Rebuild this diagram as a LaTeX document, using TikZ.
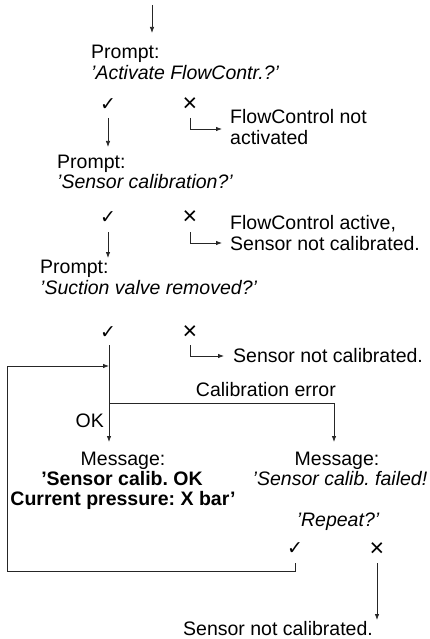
\documentclass[tikz,border=0pt]{standalone}
\usepackage{fontspec}
\setmainfont{Liberation Sans}
\newfontfamily\symfont{DejaVu Sans}
\usetikzlibrary{arrows.meta}
\frenchspacing
\begin{document}
\begin{tikzpicture}[x=1pt,y=-1pt,
  txt/.style={inner sep=0pt,anchor=base west,font=\fontsize{19.5}{20}\selectfont},
  ctxt/.style={txt,anchor=base},
  rtxt/.style={txt,anchor=base east},
  yes/.style={inner sep=0pt,font=\symfont\fontsize{19}{19}\selectfont},
  no/.style={inner sep=0pt,font=\fontsize{25}{25}\selectfont},
  conn/.style={line width=0.75pt,draw=black!85},
  arr/.style={conn,-{Latex[length=6pt,width=4.5pt]}}]
\useasboundingbox (0,0) rectangle (430,639);

% block 1
\node[txt] (p1a) at (91,59) {Prompt:};
\node[txt] (p1b) at (91,80) {\itshape ’Activate FlowContr.?’};
\node[yes] (y1) at (108,105) {✓};
\node[no] (n1) at (190,105) {×};
\node[txt] (r1a) at (230,124) {FlowControl not};
\node[txt] (r1b) at (230,145) {activated};

% block 2
\node[txt] (p2a) at (57,168) {Prompt:};
\node[txt] (p2b) at (57,189) {\itshape ’Sensor calibration?’};
\node[yes] (y2) at (108,218) {✓};
\node[no] (n2) at (190,218) {×};
\node[txt] (r2a) at (230,229) {FlowControl active,};
\node[txt] (r2b) at (230,250) {Sensor not calibrated.};

% block 3
\node[txt] (p3a) at (40,273) {Prompt:};
\node[txt] (p3b) at (40,294) {\itshape ’Suction valve removed?’};
\node[yes] (y3) at (108,333) {✓};
\node[no] (n3) at (190,333) {×};
\node[txt] (r3) at (233,362) {Sensor not calibrated.};

% labels
\node[rtxt] (cerr) at (336,396) {Calibration error};
\node[rtxt] (ok) at (104,427) {OK};

% messages
\node[ctxt] (m1a) at (123,465) {Message:};
\node[ctxt] (m1b) at (122,485) {\bfseries ’Sensor calib. OK};
\node[ctxt] (m1c) at (123,505) {\bfseries Current pressure: X bar’};
\node[ctxt] (m2a) at (337,465) {Message:};
\node[ctxt] (m2b) at (340,485) {\itshape ’Sensor calib. failed!};
\node[ctxt] (m2c) at (338,526) {\itshape ’Repeat?’};
\node[yes] (y4) at (295,549) {✓};
\node[no] (n4) at (377,550) {×};
\node[ctxt] (fin) at (278,635) {Sensor not calibrated.};

% connector coordinates
\coordinate (t0) at (152,5);
\coordinate (t1) at (152,33);
\coordinate (a1s) at (108,118);
\coordinate (a1e) at (108,147);
\coordinate (e1s) at (190,118);
\coordinate (e1c) at (190,129);
\coordinate (e1e) at (222,129);
\coordinate (a2s) at (108,232);
\coordinate (a2e) at (108,258);
\coordinate (e2s) at (190,232);
\coordinate (e2c) at (190,243);
\coordinate (e2e) at (222,243);
\coordinate (ms) at (109,345);
\coordinate (me) at (109,442);
\coordinate (e3s) at (190,345);
\coordinate (e3c) at (190,356);
\coordinate (e3e) at (224,356);
\coordinate (bs) at (109,403);
\coordinate (bc) at (334,403);
\coordinate (be) at (334,442);
\coordinate (l0) at (295,563);
\coordinate (l1) at (295,571);
\coordinate (l2) at (7,571);
\coordinate (l3) at (7,366);
\coordinate (l4) at (109,366);
\coordinate (x0) at (377,563);
\coordinate (x1) at (377,620);

\draw[arr] (t0) -- (t1);
\draw[arr] (a1s) -- (a1e);
\draw[arr] (e1s) -- (e1c) -- (e1e);
\draw[arr] (a2s) -- (a2e);
\draw[arr] (e2s) -- (e2c) -- (e2e);
\draw[arr] (ms) -- (me);
\draw[arr] (e3s) -- (e3c) -- (e3e);
\draw[arr] (bs) -- (bc) -- (be);
\draw[arr] (l0) -- (l1) -- (l2) -- (l3) -- (l4);
\draw[arr] (x0) -- (x1);
\end{tikzpicture}
\end{document}
